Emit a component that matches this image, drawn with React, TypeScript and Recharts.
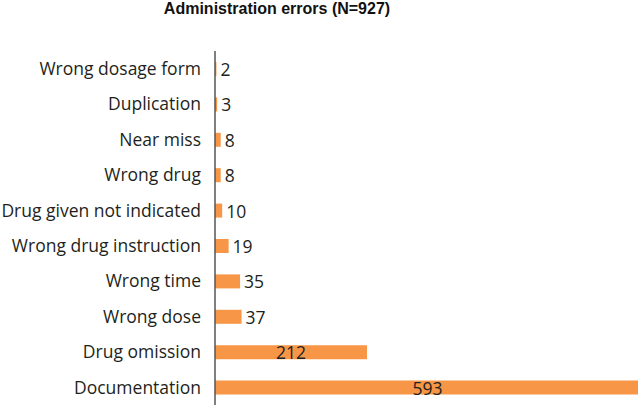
import { BarChart, Bar, XAxis, YAxis, LabelList } from 'recharts';

const categories = [
  'Wrong dosage form',
  'Duplication',
  'Near miss',
  'Wrong drug',
  'Drug given not indicated',
  'Wrong drug instruction',
  'Wrong time',
  'Wrong dose',
  'Drug omission',
  'Documentation',
];
const counts = [2, 3, 8, 8, 10, 19, 35, 37, 212, 593];

const data = categories.map((name, i) => ({ name, count: counts[i] }));

const FONT = '"Open Sans", Lato, sans-serif';

// small bars get the number to the right, big ones in the middle
const renderLabel = (props: any) => {
  const { x, y, width, height, value } = props;
  const inside = value > 100;
  return (
    <text
      x={inside ? x + width / 2 : x + width + 4}
      y={y + height / 2}
      textAnchor={inside ? 'middle' : 'start'}
      dominantBaseline="central"
      fontFamily={FONT}
      fontSize={17.5}
      fill="#231f20"
    >
      {value}
    </text>
  );
};

export default function App() {
  return (
    <div style={{ position: 'absolute', left: 0, top: 0, width: 638, height: 406, background: '#fff' }}>
      <div
        style={{
          position: 'absolute',
          left: 0,
          top: 0,
          width: 554,
          textAlign: 'center',
          fontFamily: '"Liberation Sans", Arial, sans-serif',
          fontWeight: 'bold',
          fontSize: 16,
          color: '#111',
        }}
      >
        Administration errors (N=927)
      </div>
      <BarChart
        width={638}
        height={406}
        data={data}
        layout="vertical"
        margin={{ top: 51, right: 0, bottom: 1, left: 0 }}
        barCategoryGap={0}
      >
        <XAxis type="number" hide domain={[0, 590]} allowDataOverflow />
        <YAxis
          type="category"
          dataKey="name"
          width={215}
          tickLine={false}
          tickMargin={8}
          axisLine={{ stroke: '#555', strokeWidth: 1.5 }}
          tick={{ fill: '#231f20', fontSize: 17.5, fontFamily: FONT }}
          interval={0}
        />
        <Bar dataKey="count" fill="#F79646" barSize={14} isAnimationActive={false}>
          <LabelList dataKey="count" content={renderLabel} />
        </Bar>
      </BarChart>
    </div>
  );
}
